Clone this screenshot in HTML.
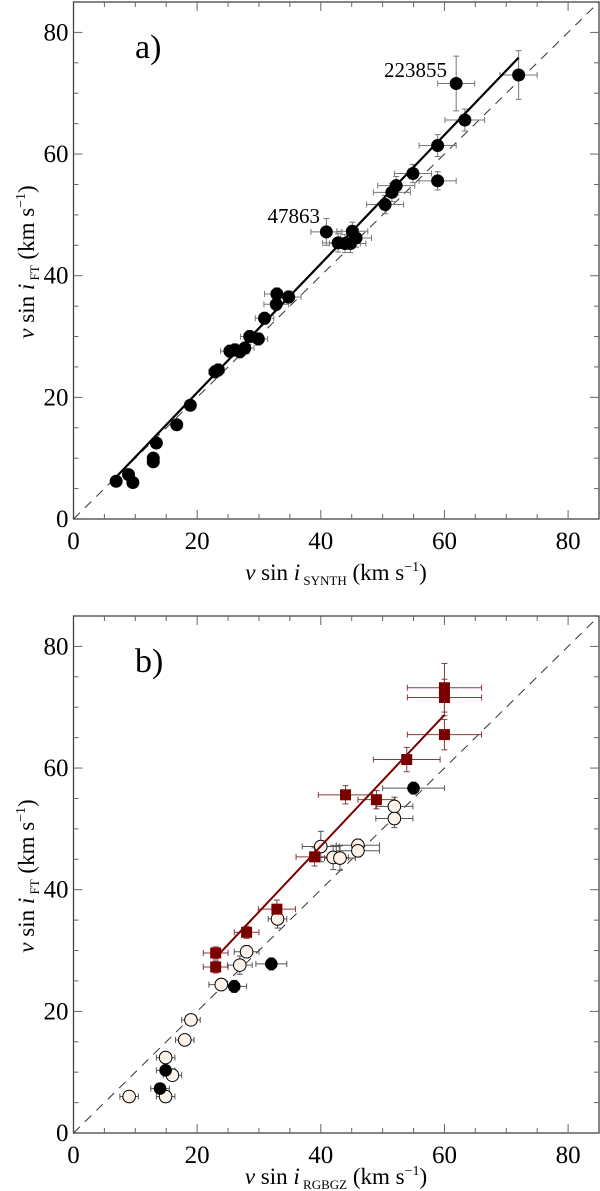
<!DOCTYPE html>
<html><head><meta charset="utf-8"><style>
body{margin:0;background:#fff;}
svg{display:block;}
text{font-family:"Liberation Serif",serif;}
</style></head><body>
<svg id="c" width="600" height="1191" font-family="Liberation Serif, serif" xmlns="http://www.w3.org/2000/svg"></svg>
<script>
// Panel a data: synth vs FT
const aX=[6.9,8.9,9.6,12.9,12.9,13.4,16.7,18.9,22.9,23.4,25.3,26.1,26.9,27.7,28.5,29.9,30.9,32.9,32.8,34.8,40.9,42.8,43.9,44.8,45.1,45.7,50.4,51.5,52.2,54.9,58.9,58.9,63.3,61.9,72.0];
const aY=[6.2,7.3,6.0,10.0,9.4,12.5,15.5,18.7,24.2,24.5,27.6,27.8,27.5,28.1,30.0,29.6,33.0,37.0,35.3,36.5,47.2,45.4,45.3,45.3,47.3,46.2,51.7,53.7,54.8,56.8,55.6,61.4,65.6,71.6,73.0];
const aXe=[0,0,0,0,0,0,0,0,1,1,1.5,1.5,1.5,1.5,1.5,1.5,1.5,2,2,2,2.5,2.5,2.5,2.5,2.5,2.5,3,3,3,3,3,3,3.2,3,3];
const aYe=[0,0,0,0,0,0,0,0,1,1,1,1,1,1,1,1,1,1,1,1,2.2,1.5,1.5,1.5,1.5,1.5,1.5,1.5,1.5,1.5,1.5,1.8,1.8,4.5,4];
const aFit=[7,72]; const aFitSlope=1.059, aFitInt=-0.4;
// Panel b data
const sqX=[60,60,60,53.9,44.0,49.0,39.0,32.9,28.0,23.0,23.0];
const sqY=[73.2,71.6,65.5,61.4,55.6,54.8,45.4,36.8,33.0,29.6,27.3];
const sqXe=[6,6,6,5.4,4.4,3,3,3,2,2,2];
const sqYe=[4,3,2.5,2,1.5,1.5,1.5,1.5,1,1,1];
const opX=[51.9,51.9,40.0,42.0,43.1,46.0,46.0,33.0,28.0,26.9,23.9,19.0,18.0,14.9,16.0,14.9,9.0];
const opY=[53.7,51.7,47.1,45.3,45.2,47.3,46.4,35.2,29.8,27.6,24.4,18.6,15.3,12.4,9.5,6.0,6.0];
const opXe=[3,3,3,2.5,2.5,3.5,3.5,1.5,2,2,2,1.5,1.5,1.5,1.5,1.5,1.5];
const opYe=[1.5,1.5,2.5,2,2,1,1,1.5,1,1.5,1,0.5,0.5,0.5,0.5,0.5,0.5];
const blX=[55.0,32.0,26.0,14.9,14.0];
const blY=[56.7,27.8,24.1,10.3,7.3];
const blXe=[5,2.5,2,1.5,1.5];
const blYe=[1,1,1,0.5,0.5];
const bFit=[23,60]; const bFitSlope=1.079, bFitInt=4.0;
const ticks=[0,20,40,60,80];

const NS="http://www.w3.org/2000/svg";
const svg=document.getElementById('c');
function mk(tag,attrs,parent){const e=document.createElementNS(NS,tag);for(const k in attrs)e.setAttribute(k,attrs[k]);(parent||svg).appendChild(e);return e;}

function panel(top,bottom,name){
  const L=73.5,R=599,T=top,B=bottom;
  const sx=v=>L+(R-L)*v/85, sy=v=>B-(B-T)*v/85;
  const g=mk('g',{});
  
  
  const fr=mk('rect',{x:L,y:T,width:R-L,height:B-T,fill:'none',stroke:'#444','stroke-width':1.3},g);
  
  
  for(let v=5;v<85;v+=5){
    const len=v%20===0?9:5;
    mk('line',{x1:sx(v),x2:sx(v),y1:B,y2:B-len,stroke:'#666'},g);
    mk('line',{x1:sx(v),x2:sx(v),y1:T,y2:T+len,stroke:'#666'},g);
    mk('line',{x1:L,x2:L+len,y1:sy(v),y2:sy(v),stroke:'#666'},g);
    mk('line',{x1:R,x2:R-len,y1:sy(v),y2:sy(v),stroke:'#666'},g);
  }
  ticks.forEach(t=>{
    const tx=mk('text',{x:sx(t),y:B+30,'font-size':25,'font-family':'Liberation Serif, serif','text-anchor':'middle'},g);tx.textContent=t;
    
    
    const ty=mk('text',{x:L-5,y:sy(t)+8,'font-size':25,'font-family':'Liberation Serif, serif','text-anchor':'end'},g);ty.textContent=t;
    
    
  });
  const d=mk('line',{x1:sx(0),y1:sy(0),x2:sx(85),y2:sy(85),stroke:'#333','stroke-width':1,'stroke-dasharray':'9,7'},g);
  
  
  return {g,sx,sy};
}
function errbar(g,sx,sy,x,y,xe,ye,col){
  if(xe>0){mk('line',{x1:sx(x-xe),x2:sx(x+xe),y1:sy(y),y2:sy(y),stroke:col},g);
    mk('line',{x1:sx(x-xe),x2:sx(x-xe),y1:sy(y)-3,y2:sy(y)+3,stroke:col},g);
    mk('line',{x1:sx(x+xe),x2:sx(x+xe),y1:sy(y)-3,y2:sy(y)+3,stroke:col},g);}
  if(ye>0){mk('line',{x1:sx(x),x2:sx(x),y1:sy(y-ye),y2:sy(y+ye),stroke:col},g);
    mk('line',{x1:sx(x)-3,x2:sx(x)+3,y1:sy(y-ye),y2:sy(y-ye),stroke:col},g);
    mk('line',{x1:sx(x)-3,x2:sx(x)+3,y1:sy(y+ye),y2:sy(y+ye),stroke:col},g);}
}

// Panel a
const A=panel(2,519,'panel-a');
aX.forEach((x,i)=>errbar(A.g,A.sx,A.sy,x,aY[i],aXe[i],aYe[i],'#777'));
const fa=mk('line',{x1:A.sx(aFit[0]),y1:A.sy(aFit[0]*aFitSlope+aFitInt),x2:A.sx(aFit[1]),y2:A.sy(aFit[1]*aFitSlope+aFitInt),stroke:'#000','stroke-width':2.2},A.g);


aX.forEach((x,i)=>{const c=mk('circle',{cx:A.sx(x),cy:A.sy(aY[i]),r:6.5,fill:'#000'},A.g);
  
  });

// Panel b
const Bp=panel(616,1133,'panel-b');
opX.forEach((x,i)=>errbar(Bp.g,Bp.sx,Bp.sy,x,opY[i],opXe[i],opYe[i],'#555'));
blX.forEach((x,i)=>errbar(Bp.g,Bp.sx,Bp.sy,x,blY[i],blXe[i],blYe[i],'#555'));
sqX.forEach((x,i)=>errbar(Bp.g,Bp.sx,Bp.sy,x,sqY[i],sqXe[i],sqYe[i],'#8a3a3a'));
opX.forEach((x,i)=>{const c=mk('circle',{cx:Bp.sx(x),cy:Bp.sy(opY[i]),r:6.3,fill:'#fdf3ea',stroke:'#000','stroke-width':1},Bp.g);
  
  });
blX.forEach((x,i)=>{const c=mk('circle',{cx:Bp.sx(x),cy:Bp.sy(blY[i]),r:6.3,fill:'#000'},Bp.g);
  
  });
const fb=mk('line',{x1:Bp.sx(bFit[0]),y1:Bp.sy(bFit[0]*bFitSlope+bFitInt),x2:Bp.sx(bFit[1]),y2:Bp.sy(bFit[1]*bFitSlope+bFitInt),stroke:'#7a0000','stroke-width':2},Bp.g);


sqX.forEach((x,i)=>{const s=mk('rect',{x:Bp.sx(x)-5.5,y:Bp.sy(sqY[i])-5.5,width:11,height:11,fill:'#7a0000'},Bp.g);
  
  });
</script>
<svg width="600" height="1191" style="position:absolute;left:0;top:0">
  <g font-family="Liberation Serif, serif" fill="#000">
    <text x="135" y="58" font-size="34">a)</text>
    <text x="447" y="77" font-size="21" text-anchor="end">223855</text>
    <text x="320" y="223" font-size="21" text-anchor="end">47863</text>
    <text x="336" y="580" font-size="23" text-anchor="middle"><tspan font-style="italic">v</tspan> sin <tspan font-style="italic">i</tspan><tspan font-size="13" dy="5"> SYNTH</tspan><tspan dy="-5"> (km s</tspan><tspan font-size="14" dy="-9">−1</tspan><tspan dy="9">)</tspan></text>
    <text transform="translate(34,262) rotate(-90)" font-size="23" text-anchor="middle"><tspan font-style="italic">v</tspan> sin <tspan font-style="italic">i</tspan><tspan font-size="13" dy="5"> FT</tspan><tspan dy="-5"> (km s</tspan><tspan font-size="14" dy="-9">−1</tspan><tspan dy="9">)</tspan></text>
    <text x="135" y="672" font-size="34">b)</text>
    <text x="336" y="1184" font-size="23" text-anchor="middle"><tspan font-style="italic">v</tspan> sin <tspan font-style="italic">i</tspan><tspan font-size="13" dy="5"> RGBGZ</tspan><tspan dy="-5"> (km s</tspan><tspan font-size="14" dy="-9">−1</tspan><tspan dy="9">)</tspan></text>
    <text transform="translate(34,876) rotate(-90)" font-size="23" text-anchor="middle"><tspan font-style="italic">v</tspan> sin <tspan font-style="italic">i</tspan><tspan font-size="13" dy="5"> FT</tspan><tspan dy="-5"> (km s</tspan><tspan font-size="14" dy="-9">−1</tspan><tspan dy="9">)</tspan></text>
  </g>
</svg>
</body></html>
